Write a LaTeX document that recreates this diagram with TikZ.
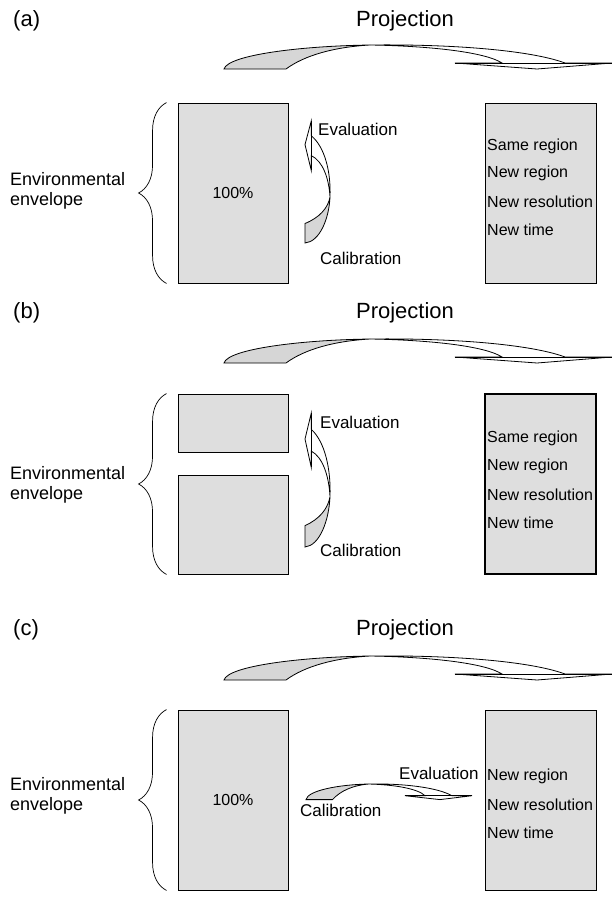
\documentclass[tikz,border=0pt]{standalone}
\usepackage{fontspec}
\setmainfont{Liberation Sans}
\usetikzlibrary{decorations.pathreplacing}

\definecolor{boxgray}{gray}{0.87}
\definecolor{arrowgray}{gray}{0.84}

% twisted ribbon arrow, drawn pointing right, 388 x 24
\newcommand{\twistarrow}{%
  \draw[fill=arrowgray,line width=0.8pt] (0,24) -- (62,24) .. controls (81,10) and (111,2) .. (146,0)
        .. controls (76,1) and (4,10) .. (0,24) -- cycle;
  \draw[fill=white,line width=0.8pt] (146,0) .. controls (206,1) and (261,7) .. (278,18) -- (231,18)
        -- (313,24) -- (388,18) -- (341,18) .. controls (306,5) and (226,-1) .. (146,0) -- cycle;
  \draw[line width=0.8pt] (231,18) -- (388,18);
}

\tikzset{
  box/.style={draw,fill=boxgray,line width=0.9pt,inner sep=0pt,font=\fontsize{16}{19}\selectfont},
  lbl/.style={inner sep=0pt,anchor=west},
  txt/.style={lbl,font=\fontsize{16}{19}\selectfont},
  env/.style={lbl,align=left,font=\fontsize{18}{20}\selectfont},
  head/.style={font=\fontsize{22}{24}\selectfont,inner sep=0pt},
  envbrace/.style={decorate,decoration={brace,amplitude=28pt},line width=0.7pt},
}

\begin{document}
\begin{tikzpicture}[x=1pt,y=-1pt,font=\fontsize{17}{20}\selectfont]
  \useasboundingbox (0,0) rectangle (612,916);

  % (a)
  \node[head,anchor=west] (labA) at (13,21) {(a)};
  \node[head] (projA) at (405,21) {Projection};
  \begin{scope}[shift={(224,45)}] \twistarrow \end{scope}

  \node[box,minimum width=110pt,minimum height=180pt] (leftA) at (233,193) {100\%};
  \node[box,minimum width=111pt,minimum height=180pt] (rightA) at (540.5,193) {};
  \draw[envbrace] ([xshift=-11pt]leftA.south west) -- ([xshift=-11pt]leftA.north west);
  \node[env] (envA) at (10,191) {Environmental\\envelope};

  \begin{scope}[cm={0,0.3144,1.0417,0,(330,243)}] \twistarrow \end{scope}
  \node[lbl] (evalA) at (318,129) {Evaluation};
  \node[lbl] (calA) at (320,258) {Calibration};

  \node[txt] (sameA) at (487,146) {Same region};
  \node[txt] (regA) at (487,173) {New region};
  \node[txt] (resA) at (487,202) {New resolution};
  \node[txt] (timeA) at (487,230) {New time};

  % (b)
  \node[head,anchor=west] (labB) at (13,313) {(b)};
  \node[head] (projB) at (405,313) {Projection};
  \begin{scope}[shift={(224,339)}] \twistarrow \end{scope}

  \node[box,minimum width=110pt,minimum height=58pt] (leftB1) at (233,423) {};
  \node[box,minimum width=110pt,minimum height=99pt] (leftB2) at (233,524.5) {};
  \node[box,line width=1.3pt,minimum width=111pt,minimum height=180pt] (rightB) at (540.5,484) {};
  \draw[envbrace] ([xshift=-11pt]leftB2.south west) -- ([xshift=-11pt]leftB1.north west);
  \node[env] (envB) at (10,485) {Environmental\\envelope};

  \begin{scope}[cm={0,0.345,1.0417,0,(330,547)}] \twistarrow \end{scope}
  \node[lbl] (evalB) at (320,422) {Evaluation};
  \node[lbl] (calB) at (320,550) {Calibration};

  \node[txt] (sameB) at (487,438) {Same region};
  \node[txt] (regB) at (487,466) {New region};
  \node[txt] (resB) at (487,495) {New resolution};
  \node[txt] (timeB) at (487,523) {New time};

  % (c)
  \node[head,anchor=west] (labC) at (13,630) {(c)};
  \node[head] (projC) at (405,630) {Projection};
  \begin{scope}[shift={(224,656)}] \twistarrow \end{scope}

  \node[box,minimum width=110pt,minimum height=180pt] (leftC) at (233,800) {100\%};
  \node[box,minimum width=111pt,minimum height=180pt] (rightC) at (540.5,800) {};
  \draw[envbrace] ([xshift=-11pt]leftC.south west) -- ([xshift=-11pt]leftC.north west);
  \node[env] (envC) at (10,796) {Environmental\\envelope};

  \begin{scope}[shift={(306,784)},xscale=0.428,yscale=0.65] \twistarrow \end{scope}
  \node[lbl] (evalC) at (399,773) {Evaluation};
  \node[lbl] (calC) at (300,810) {Calibration};

  \node[txt] (regC) at (487,776) {New region};
  \node[txt] (resC) at (487,805) {New resolution};
  \node[txt] (timeC) at (487,833) {New time};
\end{tikzpicture}
\end{document}
